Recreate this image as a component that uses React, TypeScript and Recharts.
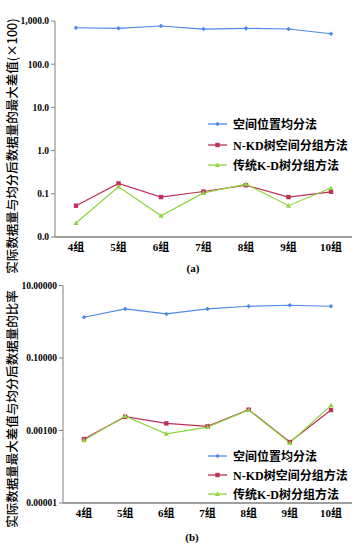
import React from "react";
import { LineChart, Line, XAxis, YAxis, Legend } from "recharts";

const groups = ["4组", "5组", "6组", "7组", "8组", "9组", "10组"];

// (a) 最大差值 (×100)
const aUniform = [698, 676, 766, 652, 676, 652, 507];
const aNkd = [0.053, 0.174, 0.084, 0.113, 0.158, 0.084, 0.111];
const aKd = [0.021, 0.146, 0.031, 0.105, 0.168, 0.053, 0.136];
const aTicks = [0.01, 0.1, 1, 10, 100, 1000];

// (b) 比率
const bUniform = [1.33, 2.26, 1.64, 2.26, 2.68, 2.85, 2.68];
const bNkd = [0.00058, 0.0024, 0.00157, 0.0013, 0.00375, 0.00048, 0.00367];
const bKd = [0.00054, 0.0025, 0.00081, 0.00124, 0.00367, 0.00046, 0.00494];
const bTicks = [0.00001, 0.001, 0.1, 10];

const seriesKeys = ["uniform", "nkd", "kd"];
const seriesNames: Record<string, string> = {
  uniform: "空间位置均分法",
  nkd: "N-KD树空间分组方法",
  kd: "传统K-D树分组方法",
};

const aData = groups.map((g, i) => ({ group: g, uniform: aUniform[i], nkd: aNkd[i], kd: aKd[i] }));
const bData = groups.map((g, i) => ({ group: g, uniform: bUniform[i], nkd: bNkd[i], kd: bKd[i] }));

const BLUE = "#4f8be6";
const RED = "#bc3157";
const GREEN = "#8fd43e";
const FONT = "'Liberation Serif', 'Noto Sans CJK SC', serif";

const shapes: Record<string, string> = { uniform: "diamond", nkd: "square", kd: "triangle" };
const colors: Record<string, string> = { uniform: BLUE, nkd: RED, kd: GREEN };

function marker(shape: string, cx: number, cy: number, color: string, key?: any) {
  if (shape === "diamond") {
    return <path key={key} d={`M${cx},${cy - 2.3}L${cx + 2.3},${cy}L${cx},${cy + 2.3}L${cx - 2.3},${cy}Z`} fill={color} />;
  }
  if (shape === "square") {
    return <rect key={key} x={cx - 2.2} y={cy - 2.2} width={4.4} height={4.4} fill={color} />;
  }
  return <path key={key} d={`M${cx},${cy - 2.6}L${cx + 2.6},${cy + 2}L${cx - 2.6},${cy + 2}Z`} fill={color} />;
}

const makeDot = (dataKey: string) => (props: any) => {
  const { cx, cy, index } = props;
  if (cx == null || cy == null) return <g key={index} />;
  return marker(shapes[dataKey], cx, cy, colors[dataKey], index);
};

const LegendBox = ({ payload, rowH }: any) => {
  const items = [...(payload || [])].sort(
    (a: any, b: any) => seriesKeys.indexOf(a.dataKey) - seriesKeys.indexOf(b.dataKey)
  );
  return (
    <div style={{ fontFamily: FONT, fontWeight: "bold", fontSize: 12, color: "#000" }}>
      {items.map((p: any) => (
        <div key={p.dataKey} style={{ height: rowH, display: "flex", alignItems: "center" }}>
          <svg width={26} height={10} style={{ marginRight: 2 }}>
            <line x1={3} y1={5} x2={22} y2={5} stroke={colors[p.dataKey]} strokeWidth={1.3} />
            {marker(shapes[p.dataKey], 12.5, 5, colors[p.dataKey])}
          </svg>
          <span style={{ whiteSpace: "nowrap" }}>{p.value}</span>
        </div>
      ))}
    </div>
  );
};

const tickStyle = { fontFamily: FONT, fontWeight: "bold" as const, fontSize: 9.5, fill: "#000" };
const xTickStyle = { fontFamily: FONT, fontWeight: "bold" as const, fontSize: 11, fill: "#000" };

function Panel({ data, ticks, domain, fmt, yWidth, top, height, xHeight, legendTop, rowH }: any) {
  return (
    <LineChart width={362} height={height} data={data} margin={{ top, right: 10, left: 0, bottom: 0 }}>
      <XAxis
        dataKey="group"
        padding={{ left: 21, right: 21 }}
        height={xHeight}
        tickLine={false}
        tickSize={4}
        tickMargin={2}
        stroke="#404040"
        tick={xTickStyle}
        interval={0}
      />
      <YAxis
        scale="log"
        domain={domain}
        ticks={ticks}
        allowDataOverflow
        width={yWidth}
        tickSize={4}
        tickMargin={2}
        stroke="#808080"
        tick={tickStyle}
        tickFormatter={fmt}
        interval={0}
      />
      <Legend
        layout="vertical"
        align="center"
        verticalAlign="middle"
        wrapperStyle={{ top: legendTop, left: 205, width: 160 }}
        content={(props: any) => <LegendBox payload={props.payload} rowH={rowH} />}
      />
      {seriesKeys.map((k) => (
        <Line
          key={k}
          dataKey={k}
          name={seriesNames[k]}
          stroke={colors[k]}
          strokeWidth={1.2}
          dot={makeDot(k)}
          activeDot={false}
          isAnimationActive={false}
        />
      ))}
    </LineChart>
  );
}

const fmtA = (v: number) =>
  v.toLocaleString("en-US", { minimumFractionDigits: 1, maximumFractionDigits: 1 });
const fmtB = (v: number) => v.toFixed(5);

export default function App() {
  return (
    <div style={{ position: "absolute", left: 0, top: 0, width: 362, height: 548, background: "#fff" }}>
      <div style={{ position: "absolute", left: 0, top: 0 }}>
        <Panel
          data={aData}
          ticks={aTicks}
          domain={[0.01, 1000]}
          fmt={fmtA}
          yWidth={55}
          top={21}
          height={268}
          xHeight={31}
          legendTop={114}
          rowH={20.5}
        />
      </div>
      <div style={{ position: "absolute", left: 0, top: 270 }}>
        <Panel
          data={bData}
          ticks={bTicks}
          domain={[0.00001, 10]}
          fmt={fmtB}
          yWidth={63}
          top={15.5}
          height={278}
          xHeight={45}
          legendTop={176.5}
          rowH={19}
        />
      </div>
      <svg
        width={362}
        height={548}
        style={{ position: "absolute", left: 0, top: 0, pointerEvents: "none" }}
      >
        <text
          transform="translate(11,146) rotate(-90)"
          textAnchor="middle"
          dominantBaseline="central"
          fontFamily="'Noto Sans CJK SC', sans-serif"
          fontSize={12.5}
          fontWeight={500}
          fill="#000"
        >
          实际数据量与均分后数据量的最大差值(×100)
        </text>
        <text
          transform="translate(11,409) rotate(-90)"
          textAnchor="middle"
          dominantBaseline="central"
          fontFamily="'Noto Sans CJK SC', sans-serif"
          fontSize={12.5}
          fontWeight={500}
          fill="#000"
        >
          实际数据量最大差值与均分后数据量的比率
        </text>
        <text x={193} y={272} textAnchor="middle" fontFamily={FONT} fontWeight="bold" fontSize={11} fill="#000">
          (a)
        </text>
        <text x={192} y={541} textAnchor="middle" fontFamily={FONT} fontWeight="bold" fontSize={11} fill="#000">
          (b)
        </text>
      </svg>
    </div>
  );
}
